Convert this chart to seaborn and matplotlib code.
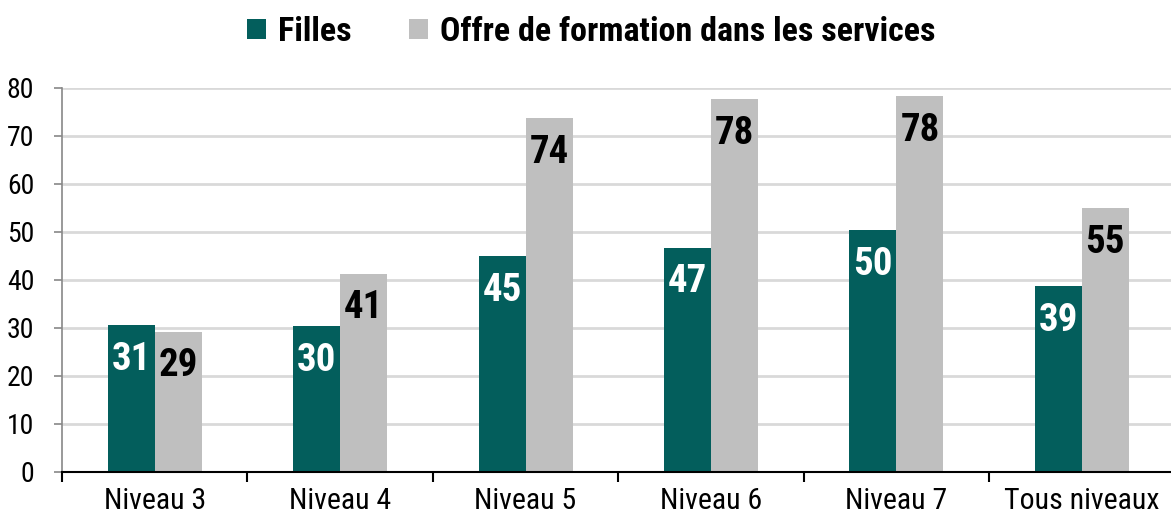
import matplotlib
matplotlib.use("Agg")
import matplotlib.pyplot as plt
import seaborn as sns
import pandas as pd
import numpy as np
from matplotlib.patches import Patch

categories = ["Niveau 3", "Niveau 4", "Niveau 5", "Niveau 6", "Niveau 7", "Tous niveaux"]
filles = [30.6, 30.4, 45.0, 46.7, 50.4, 38.75]
offre = [29.2, 41.3, 73.7, 77.7, 78.3, 55.0]
series_names = ["Filles", "Offre de formation dans les services"]
yticks = [0, 10, 20, 30, 40, 50, 60, 70, 80]

sns.set_theme(style="white")
FONT = ["Roboto Condensed", "DejaVu Sans"]
plt.rcParams["font.family"] = FONT
plt.rcParams["text.color"] = "black"

teal = "#035E5C"
grey = "#BFBFBF"

df = pd.DataFrame({
    "cat": categories * 2,
    "val": filles + offre,
    "serie": [series_names[0]] * len(categories) + [series_names[1]] * len(categories),
})

fig = plt.figure(figsize=(11.71, 5.22), dpi=100)
ax = fig.add_axes([62 / 1171, 1 - 472 / 522, 1 - 62 / 1171 + 0.003, (472 - 88) / 522])

sns.barplot(data=df, x="cat", y="val", hue="serie", order=categories,
            hue_order=series_names, palette=[teal, grey], width=0.507,
            gap=0, saturation=1, ax=ax, legend=False, errorbar=None,
            edgecolor="none", linewidth=0)

ax.set_xlim(-0.5, len(categories) - 0.5)
ax.set_ylim(0, 80)
ax.set_yticks(yticks)
ax.set_yticklabels([str(t) for t in yticks], fontsize=20, family=FONT, color="black")
ax.yaxis.grid(True, color="#D9D9D9", linewidth=2)
ax.set_axisbelow(True)
ax.set_xlabel("")
ax.set_ylabel("")

ax.set_xticks(range(len(categories)))
ax.set_xticklabels(categories, fontsize=21.5, family=FONT, color="black")
ax.set_xticks(np.arange(-0.5, len(categories), 1.0), minor=True)
ax.tick_params(axis="x", which="major", length=0, pad=11)
ax.tick_params(axis="x", which="minor", length=7, width=1.5, color="black", direction="out")
ax.tick_params(axis="y", length=6, width=1.2, color="#888888", direction="out", pad=14)
ax.xaxis.set_ticks_position("bottom")
ax.yaxis.set_ticks_position("left")

for s in ["top", "right"]:
    ax.spines[s].set_visible(False)
ax.spines["left"].set_color("#888888")
ax.spines["left"].set_linewidth(1.2)
ax.spines["bottom"].set_color("black")
ax.spines["bottom"].set_linewidth(1.5)

for ci, cont in enumerate(ax.containers):
    col = "white" if ci == 0 else "black"
    for bar in cont:
        h = bar.get_height()
        ax.annotate(f"{int(round(h))}", (bar.get_x() + bar.get_width() / 2, h),
                    xytext=(0, -24.5), textcoords="offset points",
                    ha="center", va="center", color=col,
                    fontsize=28, fontweight="bold", family=FONT)

handles = [Patch(facecolor=teal, edgecolor="none"), Patch(facecolor=grey, edgecolor="none")]
leg = fig.legend(handles, series_names, loc="center", bbox_to_anchor=(0.505, 1 - 32 / 522),
                 ncol=2, frameon=False, handlelength=0.55, handleheight=0.55,
                 handletextpad=0.35, columnspacing=1.7,
                 prop={"family": FONT, "size": 24.5, "weight": "bold"})

fig.savefig("out.png", dpi=100)
